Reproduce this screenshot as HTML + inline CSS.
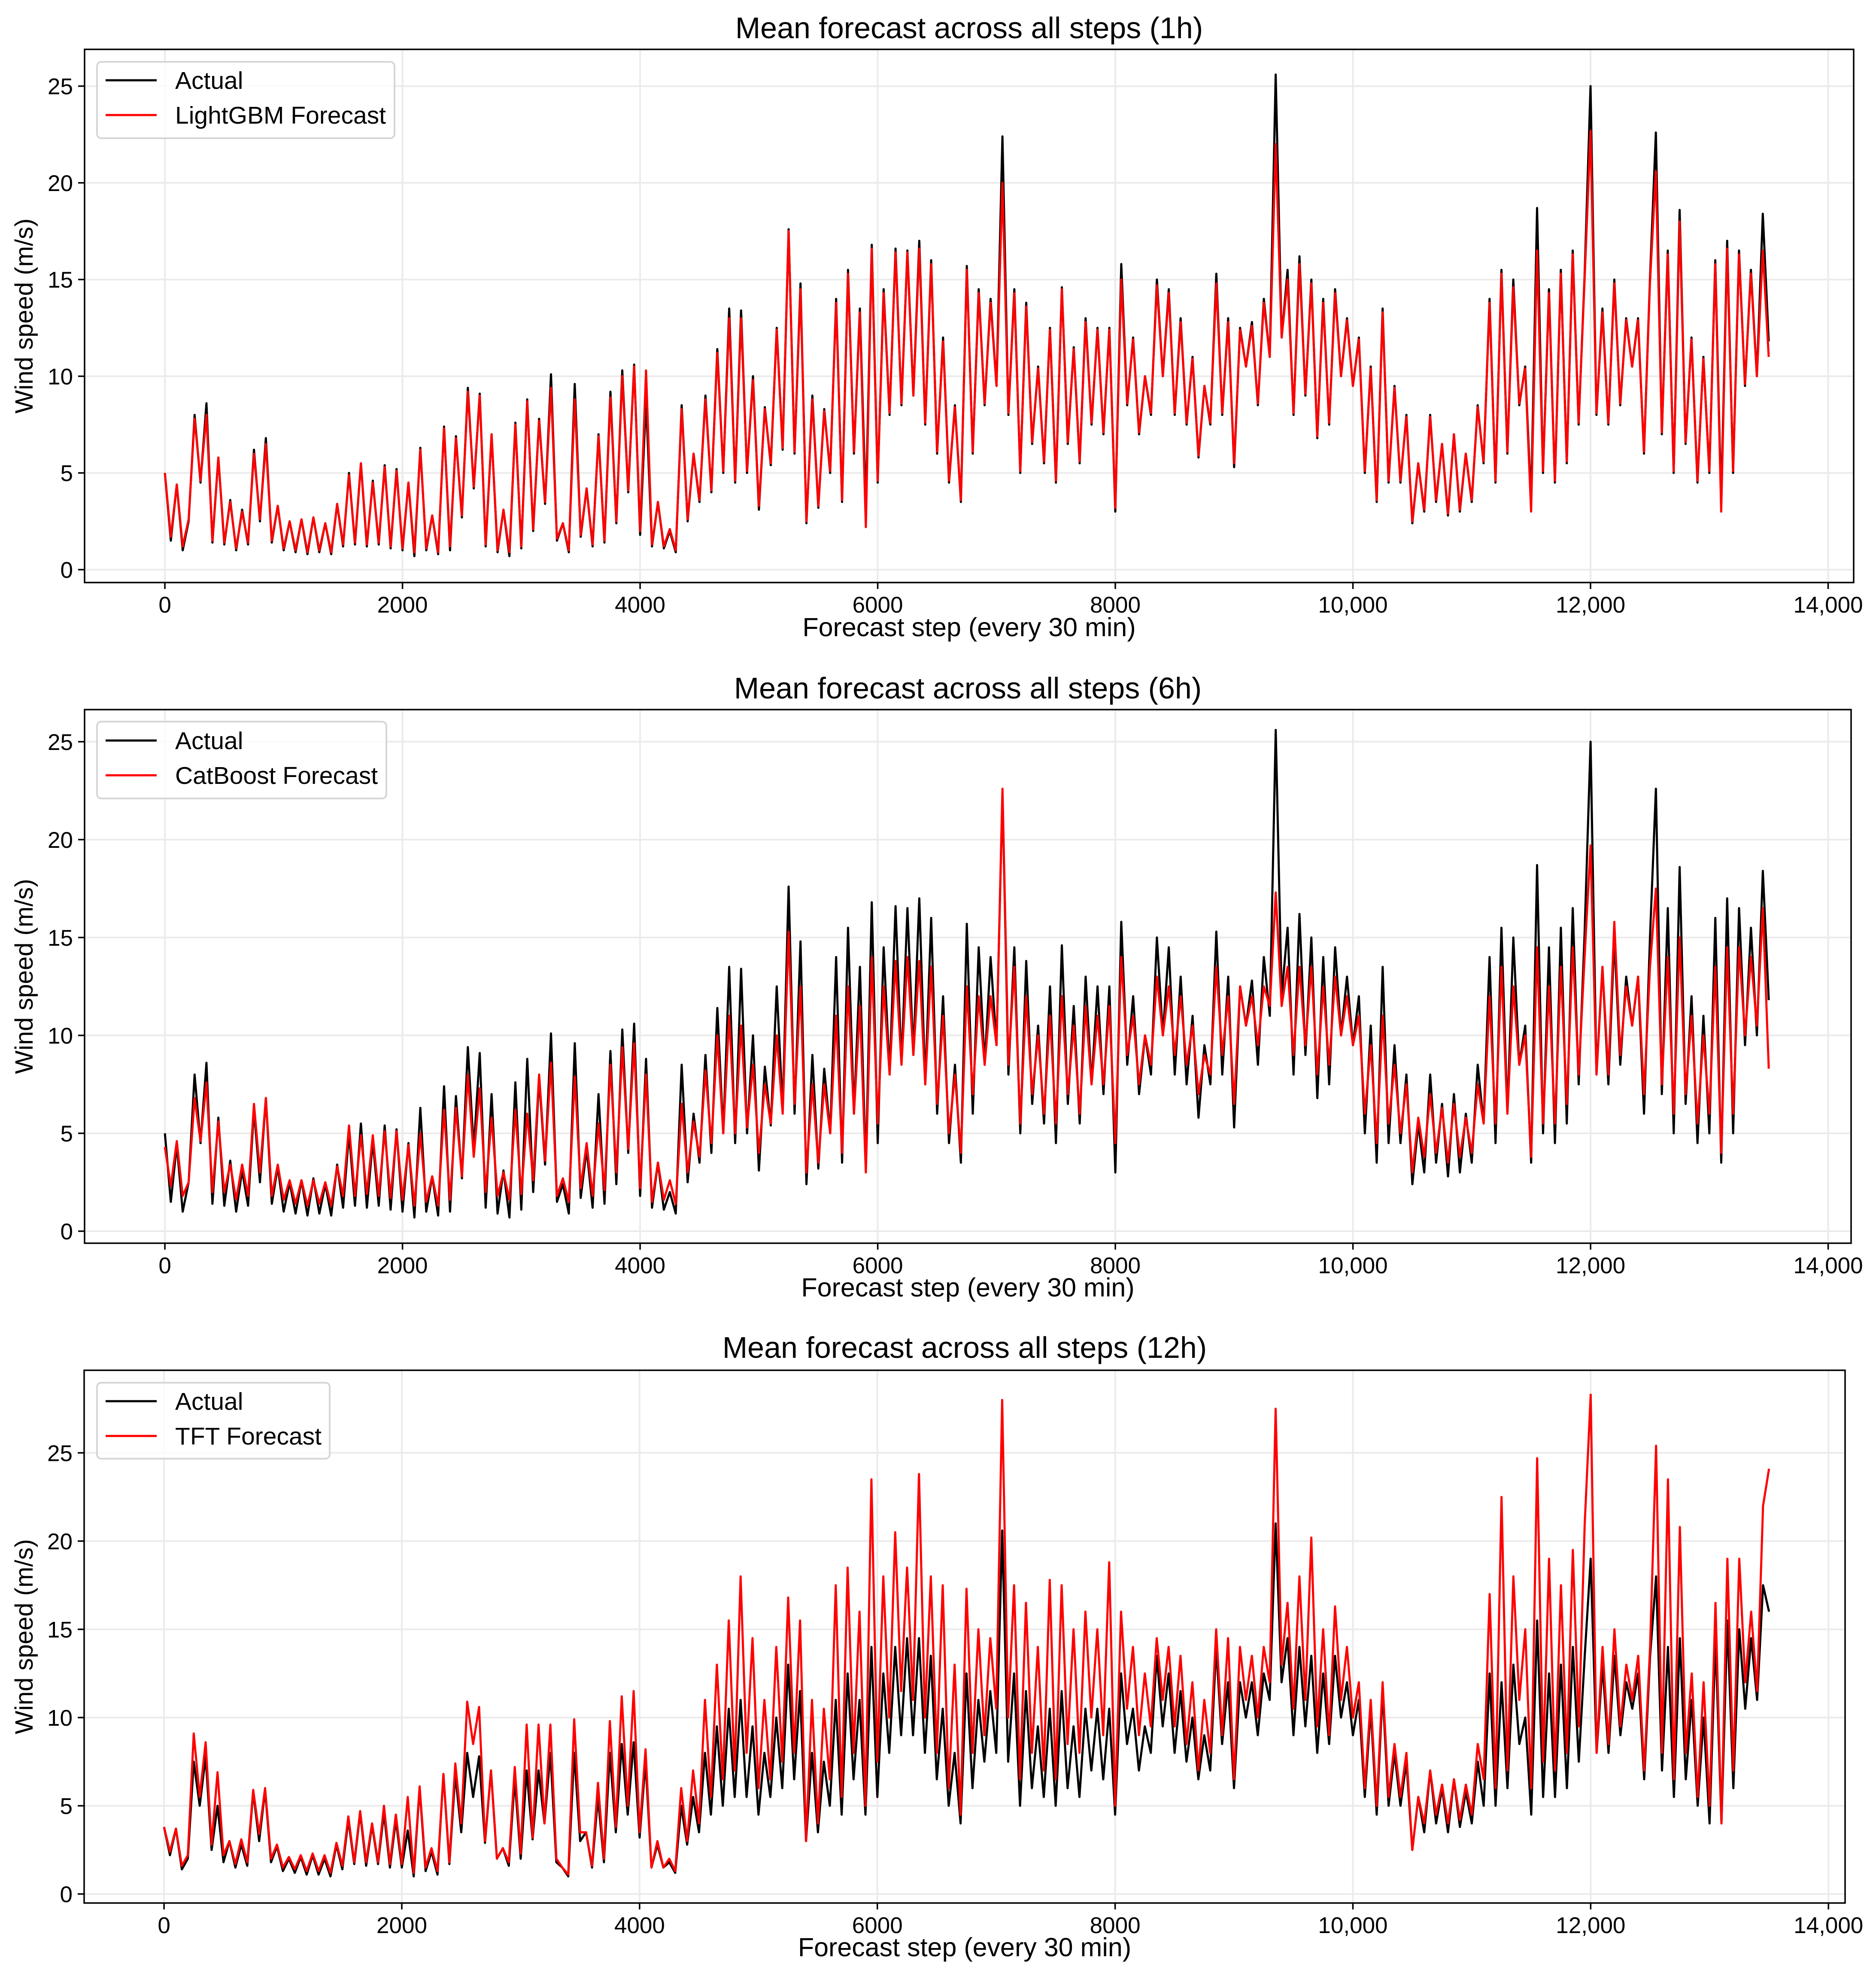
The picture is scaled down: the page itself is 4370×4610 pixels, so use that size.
<!DOCTYPE html>
<html><head><meta charset="utf-8"><style>
html,body{margin:0;padding:0;background:#fff}
svg{display:block}
text{font-family:"Liberation Sans",Arial,sans-serif;fill:#000}
</style></head><body>
<svg id="fig" width="4370" height="4610" viewBox="0 0 4370 4610" xmlns="http://www.w3.org/2000/svg"></svg>
<script>
const xTicks=[0,2000,4000,6000,8000,10000,12000,14000];
const xTickLabels=["0","2000","4000","6000","8000","10,000","12,000","14,000"];
const yTicks1=[0,5,10,15,20,25];
const yTicks3=[0,5,10,15,20,25];
const titles=["Mean forecast across all steps (1h)","Mean forecast across all steps (6h)","Mean forecast across all steps (12h)"];
const forecastNames=["LightGBM Forecast","CatBoost Forecast","TFT Forecast"];
const actual=[5.0,1.5,4.4,1.0,2.5,8.0,4.5,8.6,1.4,5.8,1.3,3.6,1.0,3.1,1.3,6.2,2.5,6.8,1.4,3.3,1.0,2.5,0.9,2.6,0.8,2.7,0.9,2.4,0.8,3.4,1.2,5.0,1.3,5.5,1.2,4.6,1.3,5.4,1.1,5.2,1.0,4.5,0.7,6.3,1.0,2.8,0.8,7.4,1.0,6.9,2.7,9.4,4.2,9.1,1.2,7.0,0.9,3.1,0.7,7.6,1.1,8.8,2.0,7.8,3.4,10.1,1.5,2.4,0.9,9.6,1.7,4.2,1.2,7.0,1.4,9.2,2.4,10.3,4.0,10.6,1.8,8.8,1.2,3.5,1.1,2.0,0.9,8.5,2.5,6.0,3.5,9.0,4.0,11.4,5.0,13.5,4.5,13.4,5.0,10.0,3.1,8.4,5.4,12.5,6.2,17.6,6.0,14.8,2.4,9.0,3.2,8.3,5.0,14.0,3.5,15.5,6.0,13.5,3.2,16.8,4.5,14.5,8.0,16.6,8.5,16.5,9.0,17.0,7.5,16.0,6.0,12.0,4.5,8.5,3.5,15.7,6.0,14.5,8.5,14.0,9.5,22.4,8.0,14.5,5.0,13.8,6.5,10.5,5.5,12.5,4.5,14.6,6.5,11.5,5.5,13.0,7.5,12.5,7.0,12.5,3.0,15.8,8.5,12.0,7.0,10.0,8.0,15.0,10.0,14.5,8.0,13.0,7.5,11.0,5.8,9.5,7.5,15.3,8.0,13.0,5.3,12.5,10.5,12.8,8.5,14.0,11.0,25.6,12.0,15.5,8.0,16.2,9.0,15.0,6.8,14.0,7.5,14.5,10.0,13.0,9.5,12.0,5.0,10.5,3.5,13.5,4.5,9.5,4.5,8.0,2.4,5.5,3.0,8.0,3.5,6.5,2.8,7.0,3.0,6.0,3.5,8.5,5.5,14.0,4.5,15.5,6.0,15.0,8.5,10.5,3.5,18.7,5.0,14.5,4.5,15.5,5.5,16.5,7.5,15.2,25.0,8.0,13.5,7.5,15.0,8.5,13.0,10.5,13.0,6.0,15.0,22.6,7.0,16.5,5.0,18.6,6.5,12.0,4.5,11.0,5.0,16.0,3.5,17.0,5.0,16.5,9.5,15.5,10.0,18.4,11.8];
const forecast1=[5.0,1.7,4.4,1.2,2.6,7.8,4.6,8.0,1.5,5.8,1.4,3.5,1.1,3.0,1.4,6.0,2.6,6.5,1.5,3.3,1.1,2.5,1.0,2.6,0.9,2.7,1.0,2.4,0.9,3.4,1.3,4.9,1.4,5.5,1.3,4.5,1.4,5.3,1.2,5.1,1.1,4.5,0.9,6.2,1.1,2.8,0.9,7.3,1.2,6.8,2.8,9.2,4.3,9.0,1.3,7.0,1.0,3.1,0.9,7.5,1.2,8.7,2.1,7.7,3.5,9.4,1.6,2.4,1.0,8.8,1.8,4.2,1.3,6.9,1.5,8.9,2.5,10.0,4.1,10.5,2.0,10.3,1.3,3.5,1.2,2.1,1.0,8.3,2.6,6.0,3.6,8.8,4.1,11.2,5.1,13.0,4.6,13.0,5.1,9.8,3.3,8.3,5.5,12.4,6.3,17.5,6.1,14.5,2.5,8.8,3.3,8.2,5.1,13.8,3.6,15.3,6.1,13.3,2.2,16.6,4.6,14.3,8.1,16.4,8.6,16.4,9.0,16.6,7.6,15.8,6.1,11.8,4.6,8.4,3.6,15.5,6.1,14.3,8.6,13.8,9.5,20.0,8.1,14.3,5.1,13.6,6.6,10.4,5.6,12.4,4.6,14.5,6.6,11.4,5.6,12.8,7.6,12.4,7.1,12.4,3.2,15.0,8.6,11.9,7.1,10.0,8.1,14.7,10.0,14.3,8.1,12.8,7.6,10.9,5.9,9.5,7.6,14.8,8.1,12.8,5.5,12.4,10.5,12.6,8.6,13.8,11.0,22.0,12.0,15.0,8.1,15.8,9.1,14.8,6.9,13.8,7.6,14.3,10.0,12.9,9.5,11.9,5.1,10.4,3.6,13.3,4.6,9.4,4.6,7.9,2.5,5.5,3.1,7.9,3.6,6.5,2.9,7.0,3.1,6.0,3.6,8.4,5.6,13.8,4.6,15.3,6.1,14.6,8.6,10.4,3.0,16.5,5.1,14.3,4.6,15.3,5.6,16.3,7.6,15.0,22.7,8.1,13.3,7.6,14.8,8.6,12.9,10.5,12.9,6.1,14.8,20.6,7.1,16.3,5.1,18.0,6.6,11.9,4.6,10.9,5.1,15.8,3.0,16.6,5.1,16.3,9.6,15.3,10.0,16.5,11.0];
const forecast2=[4.3,2.3,4.6,1.8,2.5,6.8,4.6,7.6,2.0,5.6,2.0,3.4,1.6,3.4,1.8,6.5,3.0,6.8,1.8,3.4,1.6,2.6,1.4,2.6,1.3,2.6,1.4,2.5,1.3,3.3,1.8,5.4,1.8,4.9,1.9,4.9,1.8,5.1,1.7,5.1,1.6,4.4,1.3,5.0,1.5,2.8,1.3,6.2,1.6,6.3,2.8,8.0,3.8,7.3,2.0,5.8,1.8,3.0,1.6,6.2,1.9,6.0,2.6,8.0,3.6,8.6,1.8,2.7,1.5,7.9,2.2,4.5,1.8,5.5,2.1,8.5,3.0,9.4,4.2,9.6,2.2,8.0,1.5,3.5,1.6,2.6,1.4,6.5,3.0,5.6,3.8,8.2,4.5,10.0,5.0,11.0,5.0,10.5,5.3,8.5,4.0,7.5,5.5,10.0,6.0,15.3,6.5,12.5,3.0,7.5,3.5,7.5,5.0,11.0,4.0,12.5,6.0,11.5,3.0,14.0,5.5,12.5,8.0,13.8,8.5,14.0,9.0,13.8,7.5,13.5,6.5,11.0,5.0,8.0,4.0,12.5,7.0,12.0,8.5,12.0,9.5,22.6,8.5,13.5,5.5,12.0,7.0,10.0,6.0,11.0,5.5,12.0,7.0,10.5,6.0,11.5,7.5,11.0,7.5,11.5,4.5,14.0,9.0,11.0,7.5,10.0,8.5,13.0,10.0,12.5,9.0,12.0,8.5,10.5,7.0,9.0,8.0,13.5,9.0,12.0,6.5,12.5,10.5,12.0,9.5,12.5,11.5,17.3,11.5,13.5,9.0,13.5,9.5,13.5,8.0,12.5,8.5,13.0,10.0,12.0,9.5,11.0,6.0,9.5,4.5,11.0,5.5,8.5,5.0,7.5,3.0,5.8,3.8,7.0,4.0,6.3,3.5,6.5,3.8,5.8,4.0,7.5,5.5,12.0,5.5,13.5,6.0,12.5,8.5,10.0,3.8,14.5,5.5,12.5,5.5,13.5,6.5,14.5,8.0,14.0,19.7,8.0,13.5,8.0,15.8,9.0,12.5,10.5,13.0,7.0,13.5,17.5,7.5,14.0,6.0,15.0,7.0,11.0,5.5,10.0,6.0,13.5,4.0,14.5,6.0,14.5,10.0,14.0,10.5,16.5,8.3];
const actual3=[3.8,2.2,3.7,1.4,2.0,7.5,5.0,7.8,2.5,5.0,1.8,3.0,1.5,2.8,1.6,5.8,3.0,5.9,1.8,2.7,1.3,2.0,1.2,2.1,1.1,2.2,1.1,2.0,1.0,2.8,1.4,4.2,1.7,4.6,1.6,3.9,1.7,4.6,1.5,4.2,1.5,3.6,1.0,6.0,1.3,2.4,1.1,6.8,1.7,6.8,3.5,8.0,5.5,7.8,2.9,7.0,2.0,2.6,1.6,6.5,2.0,7.0,3.1,7.0,4.0,8.0,1.8,1.5,1.0,8.0,3.0,3.5,1.5,5.5,1.8,8.0,3.5,8.5,4.5,8.6,3.2,7.5,1.5,2.8,1.5,1.8,1.2,5.0,2.8,5.5,3.5,8.0,4.5,9.5,5.0,10.5,5.5,11.0,5.5,9.5,4.5,8.0,5.5,10.0,6.0,13.0,6.5,11.5,3.0,8.0,3.5,7.5,5.0,11.0,4.5,12.5,6.5,11.0,4.5,14.0,5.5,12.5,8.0,14.0,9.0,14.5,9.0,14.5,8.0,13.5,6.5,10.5,5.0,8.0,4.0,12.5,6.0,11.0,7.5,11.5,8.0,20.6,7.5,12.5,5.0,11.5,6.0,9.5,5.5,10.5,5.0,11.5,6.0,9.5,5.5,10.5,7.0,10.5,6.5,10.5,4.5,12.5,8.5,10.5,7.0,9.5,8.0,13.5,9.5,12.5,8.0,11.5,7.5,10.0,6.5,9.0,7.0,14.0,8.5,12.0,6.0,12.0,10.0,12.0,9.0,12.5,11.0,21.0,12.0,14.5,9.0,14.0,9.5,13.5,8.0,12.5,8.5,13.5,10.0,12.0,9.0,11.0,5.5,10.5,4.5,11.5,5.0,8.0,5.0,7.5,2.5,5.5,3.5,7.0,4.0,6.0,3.5,6.5,3.8,5.8,4.0,7.5,5.0,12.5,5.0,12.0,6.0,13.0,8.5,10.0,4.5,15.5,5.5,12.5,5.5,13.0,6.0,14.0,7.5,13.5,19.0,8.0,13.0,8.0,13.5,9.0,12.0,10.5,12.5,6.5,13.5,18.0,7.0,14.0,5.5,14.5,6.5,11.0,5.0,10.0,4.0,14.5,4.0,15.5,6.0,15.0,10.5,14.5,11.0,17.5,16.0];
const forecast3=[3.8,2.4,3.7,1.6,2.2,9.1,5.5,8.6,2.8,6.9,2.2,3.0,1.7,3.1,1.8,5.9,3.4,6.0,2.0,2.8,1.5,2.1,1.4,2.2,1.3,2.3,1.3,2.2,1.2,2.9,1.6,4.4,1.8,4.7,1.8,4.0,1.8,5.0,1.7,4.5,1.7,5.5,1.2,6.1,1.5,2.6,1.3,6.8,1.8,7.4,4.0,10.9,8.5,10.6,3.0,7.0,2.0,2.6,1.8,7.2,2.3,9.6,3.2,9.6,4.0,9.6,2.0,1.5,1.1,9.9,3.5,3.5,1.6,6.3,2.0,9.8,3.8,11.2,5.0,11.5,3.5,8.2,1.5,3.0,1.5,2.0,1.3,6.0,3.0,7.0,4.0,11.0,5.5,13.0,6.5,15.5,7.0,18.0,8.0,14.5,6.0,11.0,6.5,14.0,7.5,16.8,8.0,15.5,3.0,11.0,4.0,10.5,6.5,17.5,5.5,18.5,8.0,16.0,5.0,23.5,7.5,18.0,10.0,20.5,11.5,18.5,11.0,23.8,10.0,18.0,8.0,17.5,6.0,13.0,4.5,17.3,8.0,15.0,9.0,14.5,10.5,28.0,10.0,17.5,6.5,16.5,8.0,14.0,7.0,17.8,6.5,17.5,8.5,15.0,8.0,16.0,10.0,15.0,9.0,18.8,5.0,16.0,10.5,14.0,9.0,12.5,9.5,14.5,11.0,14.0,9.5,13.5,8.5,12.0,7.0,11.0,8.0,15.0,9.0,14.5,6.5,14.0,11.0,13.5,10.0,14.0,12.0,27.5,13.0,16.5,10.5,18.0,11.0,20.2,9.5,15.0,9.0,16.3,11.0,14.0,10.0,12.0,6.0,11.0,5.0,12.0,5.5,8.5,5.5,8.0,2.5,5.5,4.0,7.0,4.5,6.2,4.0,6.5,4.2,6.2,4.5,8.5,6.5,17.0,6.0,22.5,7.0,18.0,11.0,15.0,6.0,24.7,7.5,19.0,7.0,17.5,8.0,19.5,9.5,21.0,28.3,8.0,14.0,8.5,15.0,9.5,13.0,11.0,13.5,7.0,14.0,25.4,8.0,23.5,6.5,20.8,8.0,12.5,5.5,12.0,5.0,16.5,4.0,19.0,7.0,19.0,12.0,16.0,11.5,22.0,24.1];
const lastStep=13500;

const NS="http://www.w3.org/2000/svg";
const svg=document.getElementById('fig');
function mk(tag,attrs,parent){const e=document.createElementNS(NS,tag);for(const k in attrs)e.setAttribute(k,attrs[k]);(parent||svg).appendChild(e);return e;}

const panels=[
 {L:197,R:4318,T:115,B:1357,xmin:-676,xmax:14215,ymin:-0.666,ymax:26.9,yt:yTicks1,act:actual,fc:forecast1,title:titles[0],name:forecastNames[0],tY:64,xlY:1482,leg:{x:226,y:144,w:693,h:178,l1:187,l2:268}},
 {L:197,R:4312,T:1653,B:2896,xmin:-676,xmax:14193,ymin:-0.614,ymax:26.64,yt:yTicks1,act:actual,fc:forecast2,title:titles[1],name:forecastNames[1],tY:1602,xlY:3020,leg:{x:226,y:1681,w:674,h:179,l1:1725,l2:1806}},
 {L:196,R:4298,T:3192,B:4433,xmin:-672,xmax:14140,ymin:-0.51,ymax:29.68,yt:yTicks3,act:actual3,fc:forecast3,title:titles[2],name:forecastNames[2],tY:3138,xlY:4557,leg:{x:226,y:3221,w:542,h:177,l1:3264,l2:3345}}
];

panels.forEach((p,pi)=>{
 const g=mk('g',{});
 
 
 const sx=v=>p.L+(v-p.xmin)/(p.xmax-p.xmin)*(p.R-p.L);
 const sy=v=>p.B-(v-p.ymin)/(p.ymax-p.ymin)*(p.B-p.T);
 const grid=mk('g',{},g);
 
 
 xTicks.forEach(t=>{const x=sx(t);if(x<p.R)mk('line',{x1:x,x2:x,y1:p.T,y2:p.B,stroke:'#ebebeb','stroke-width':4},grid);});
 p.yt.forEach(t=>{const y=sy(t);mk('line',{x1:p.L,x2:p.R,y1:y,y2:y,stroke:'#ebebeb','stroke-width':4},grid);});
 function series(arr,color,nm){
  const n=arr.length;let d='';
  arr.forEach((v,i)=>{const x=sx(i*lastStep/(n-1)),y=sy(v);d+=(i?'L':'M')+x.toFixed(1)+','+y.toFixed(1);});
  const path=mk('path',{d:d,fill:'none',stroke:color,'stroke-width':5,'stroke-linejoin':'round'},g);
  
  
 }
 series(p.act,'#000','actual-line');
 series(p.fc,'#ff0000','forecast-line');
 const frame=mk('rect',{x:p.L,y:p.T,width:p.R-p.L,height:p.B-p.T,fill:'none',stroke:'#000','stroke-width':3.5},g);
 
 
 xTicks.forEach((t,i)=>{const x=sx(t);
  mk('line',{x1:x,x2:x,y1:p.B,y2:p.B+15,stroke:'#000','stroke-width':3.5},g);
  const tx=mk('text',{x:x,y:p.B+70,'font-size':53,'text-anchor':'middle'},g);tx.textContent=xTickLabels[i];
  
  
 });
 p.yt.forEach(t=>{const y=sy(t);
  mk('line',{x1:p.L-15,x2:p.L,y1:y,y2:y,stroke:'#000','stroke-width':3.5},g);
  const tx=mk('text',{x:p.L-27,y:y+19,'font-size':53,'text-anchor':'end'},g);tx.textContent=String(t);
  
  
 });
 const ttl=mk('text',{x:(p.L+p.R)/2,y:p.tY+25,'font-size':70,'text-anchor':'middle'},g);ttl.textContent=p.title;
 
 
 const xl=mk('text',{x:(p.L+p.R)/2,y:p.xlY,'font-size':61,'text-anchor':'middle'},g);xl.textContent='Forecast step (every 30 min)';
 
 
 const cy=(p.T+p.B)/2;
 const yl=mk('text',{x:76,y:cy,'font-size':58,'text-anchor':'middle',transform:'rotate(-90 76 '+cy+')'},g);yl.textContent='Wind speed (m/s)';
 
 
 const lg=mk('g',{},g);
 
 
 const q=p.leg;
 mk('rect',{x:q.x,y:q.y,width:q.w,height:q.h,rx:10,fill:'#fff','fill-opacity':0.8,stroke:'#d6d6d6','stroke-width':4},lg);
 mk('line',{x1:246,x2:365,y1:q.l1,y2:q.l1,stroke:'#000','stroke-width':5},lg);
 mk('line',{x1:246,x2:365,y1:q.l2,y2:q.l2,stroke:'#ff0000','stroke-width':5},lg);
 const t1=mk('text',{x:408,y:q.l1+20,'font-size':57},lg);t1.textContent='Actual';
 
 
 const t2=mk('text',{x:408,y:q.l2+20,'font-size':57},lg);t2.textContent=p.name;
 
 
});
</script>
</body></html>
